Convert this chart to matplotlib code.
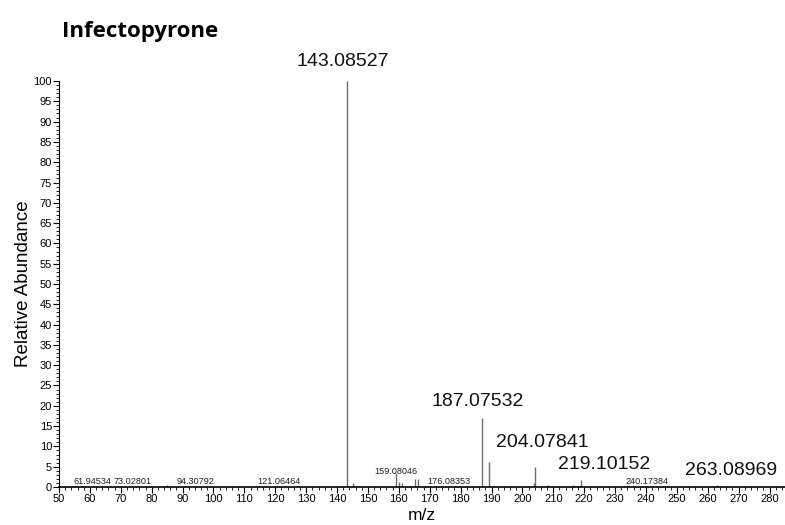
import matplotlib
matplotlib.use('Agg')
import matplotlib.pyplot as plt
from matplotlib.ticker import MultipleLocator

plt.rcParams['font.family'] = ['Liberation Sans', 'DejaVu Sans']

# peak list (m/z, relative abundance)
mzValues = [61.94534, 73.02801, 85.0, 94.30792, 121.06464, 143.08527, 145.1,
            159.08046, 160.1, 161.0, 165.2, 166.2, 176.08353, 187.07532, 189.2,
            203.6, 204.07841, 208.4, 216.4, 219.10152, 240.17384, 263.08969]
abundances = [0.3, 0.3, 0.4, 0.3, 0.3, 100.0, 1.0,
              3.4, 1.2, 0.9, 2.0, 2.0, 0.3, 16.9, 6.1,
              1.0, 4.9, 0.5, 0.6, 1.7, 0.3, 0.6]

# labelled peaks: big labels and small labels
bigLabels = ['143.08527', '187.07532', '204.07841', '219.10152', '263.08969']
smallLabels = ['61.94534', '73.02801', '94.30792', '121.06464',
               '159.08046', '176.08353', '240.17384']

# label offsets in pixels (dx, dy) from peak top
bigOffsets = [(-4, 11), (-5, 8), (7, 16), (23, 7), (14, 6)]
smallOffsets = [(-3, 0), (2, 0), (0, 0), (0, 0), (0, -3), (0, 0), (0, 0)]

fig = plt.figure(figsize=(7.85, 5.25), dpi=100)
ax = fig.add_axes([0.0752, 0.0724, 0.9248, 0.7733])

ax.vlines(mzValues, 0, abundances, color='#6e6e6e', linewidth=1.0)

peakHeight = dict(zip(mzValues, abundances))
for label, (dx, dy) in zip(bigLabels, bigOffsets):
    mz = float(label)
    ax.annotate(label, xy=(mz, peakHeight[mz]), xytext=(dx, dy),
                textcoords='offset pixels', ha='center', va='bottom',
                fontsize=14, color='#111111')
for label, (dx, dy) in zip(smallLabels, smallOffsets):
    mz = float(label)
    ax.annotate(label, xy=(mz, peakHeight[mz]), xytext=(dx, dy),
                textcoords='offset pixels', ha='center', va='bottom',
                fontsize=6.6, color='#222222')

ax.set_xlim(50, 285)
ax.set_ylim(0, 100)
ax.xaxis.set_minor_locator(MultipleLocator(2))
ax.yaxis.set_major_locator(MultipleLocator(5))
ax.yaxis.set_minor_locator(MultipleLocator(1))
ax.set_xticks(range(50, 290, 10))
ax.set_xticklabels([str(v) if v <= 280 else '' for v in range(50, 290, 10)])

for side in ['top', 'right']:
    ax.spines[side].set_visible(False)
ax.spines['left'].set_linewidth(0.8)
ax.spines['bottom'].set_linewidth(1.2)
ax.tick_params(axis='both', which='major', length=4, width=0.8,
               labelsize=8, pad=1)
ax.tick_params(axis='both', which='minor', length=2.5, width=0.6)

ax.set_ylabel('Relative Abundance', fontsize=13.5, labelpad=1)
ax.set_xlabel('m/z', fontsize=12.5, labelpad=3)

fig.text(0.079, 0.94, 'Infectopyrone', fontsize=16, fontweight='bold',
         family=['Open Sans', 'DejaVu Sans'], ha='left', va='center')

fig.savefig('out.png', dpi=100)
